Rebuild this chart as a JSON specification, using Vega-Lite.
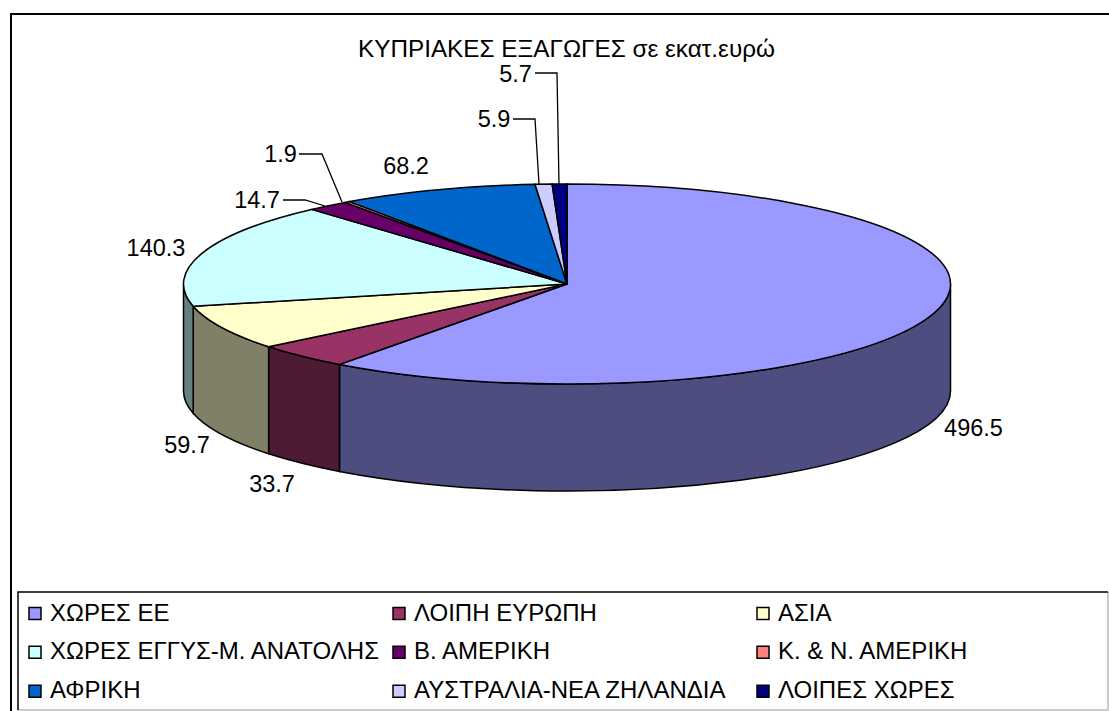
{
"$schema":"https://vega.github.io/schema/vega-lite/v6.json",
"autosize":"none","width":1100,"height":700,
"padding":{"left":11,"top":14,"right":0,"bottom":0},
"background":"white",
"config":{"view":{"stroke":"black","strokeWidth":2,"fill":"white"},"font":"Liberation Sans"},
"title":{"text":"ΚΥΠΡΙΑΚΕΣ ΕΞΑΓΩΓΕΣ σε εκατ.ευρώ","anchor":"start","orient":"top","dx":347,"dy":48,"offset":0,"font":"Liberation Sans","fontSize":24.3,"fontWeight":"normal","color":"black"},
"data":{"values":[
{"cat":"ΧΩΡΕΣ ΕΕ","order":0,"value":496.5},
{"cat":"ΛΟΙΠΗ ΕΥΡΩΠΗ","order":1,"value":33.7},
{"cat":"ΑΣΙΑ","order":2,"value":59.7},
{"cat":"ΧΩΡΕΣ ΕΓΓΥΣ-Μ. ΑΝΑΤΟΛΗΣ","order":3,"value":140.3},
{"cat":"Β. ΑΜΕΡΙΚΗ","order":4,"value":14.7},
{"cat":"Κ. & Ν. ΑΜΕΡΙΚΗ","order":5,"value":1.9},
{"cat":"ΑΦΡΙΚΗ","order":6,"value":68.2},
{"cat":"ΑΥΣΤΡΑΛΙΑ-ΝΕΑ ΖΗΛΑΝΔΙΑ","order":7,"value":5.9},
{"cat":"ΛΟΙΠΕΣ ΧΩΡΕΣ","order":8,"value":5.7}
]},
"transform":[
{"window":[{"op":"sum","field":"value","as":"cum"}],"sort":[{"field":"order"}]},
{"calculate":"min(360,(datum.cum-datum.value)*360/826)*PI/180","as":"a0"},
{"calculate":"min(360,datum.cum*360/826)*PI/180","as":"a1"},
{"calculate":"max(PI/2,min(3*PI/2,datum.a0))","as":"s0"},
{"calculate":"max(PI/2,min(3*PI/2,datum.a1))","as":"s1"},
{"calculate":"'M0,0L'+round(38350*sin(datum.a0))/100+','+round(-10000*cos(datum.a0))/100+'A383.5,100 0 '+(datum.a1-datum.a0>PI?1:0)+' 1 '+round(38350*sin(datum.a1))/100+','+round(-10000*cos(datum.a1))/100+'Z'","as":"topPath"},
{"calculate":"'M'+round(38350*sin(datum.s0))/100+','+round(-10000*cos(datum.s0))/100+'A383.5,100 0 0 1 '+round(38350*sin(datum.s1))/100+','+round(-10000*cos(datum.s1))/100+'L'+round(38350*sin(datum.s1))/100+','+(107+round(-10000*cos(datum.s1))/100)+'A383.5,100 0 0 0 '+round(38350*sin(datum.s0))/100+','+(107+round(-10000*cos(datum.s0))/100)+'Z'","as":"sidePath"},
{"calculate":"[406.5,-295,-380,-411,-310,-286.5,-161,-73,-51.5][datum.order]","as":"labelX"},
{"calculate":"[145,201,162,-35,-83,-129,-117,-164,-209][datum.order]","as":"labelY"}
],
"layer":[
{"transform":[{"filter":"datum.order==0"}],
 "mark":{"type":"point","filled":false,"opacity":1,"size":4,"stroke":"#bbbbbb","strokeWidth":1.5},
 "encoding":{
  "x":{"datum":0,"type":"quantitative","scale":{"domain":[-556,544],"nice":false,"zero":false},"axis":null},
  "y":{"datum":0,"type":"quantitative","scale":{"domain":[-270,430],"nice":false,"zero":false,"reverse":true},"axis":null},
  "shape":{"value":"M541,308L541,426L-549,426"}
 }},
{"transform":[{"filter":"datum.order==0"}],
 "mark":{"type":"point","filled":false,"opacity":1,"size":4,"stroke":"black","strokeWidth":1.5},
 "encoding":{
  "x":{"datum":0,"type":"quantitative","scale":{"domain":[-556,544],"nice":false,"zero":false},"axis":null},
  "y":{"datum":0,"type":"quantitative","scale":{"domain":[-270,430],"nice":false,"zero":false,"reverse":true},"axis":null},
  "shape":{"value":"M-549,426L-549,308L541,308"}
 }},
{"transform":[{"filter":"datum.s1>datum.s0"}],
 "mark":{"type":"point","filled":true,"opacity":1,"size":4,"stroke":"black","strokeWidth":1.5},
 "encoding":{
  "x":{"datum":0,"type":"quantitative","scale":{"domain":[-556,544],"nice":false,"zero":false},"axis":null},
  "y":{"datum":0,"type":"quantitative","scale":{"domain":[-270,430],"nice":false,"zero":false,"reverse":true},"axis":null},
  "shape":{"field":"sidePath","type":"nominal","scale":null},
  "fill":{"field":"cat","type":"nominal","legend":null,"scale":{"domain":["ΧΩΡΕΣ ΕΕ","ΛΟΙΠΗ ΕΥΡΩΠΗ","ΑΣΙΑ","ΧΩΡΕΣ ΕΓΓΥΣ-Μ. ΑΝΑΤΟΛΗΣ"],"range":["#4D4D80","#4D1A33","#808066","#668080"]}}
 }},
{"mark":{"type":"point","filled":true,"opacity":1,"size":4,"stroke":"black","strokeWidth":1.5},
 "encoding":{
  "x":{"datum":0,"type":"quantitative","scale":{"domain":[-556,544],"nice":false,"zero":false},"axis":null},
  "y":{"datum":0,"type":"quantitative","scale":{"domain":[-270,430],"nice":false,"zero":false,"reverse":true},"axis":null},
  "shape":{"field":"topPath","type":"nominal","scale":null},
  "fill":{"field":"cat","type":"nominal",
   "scale":{"domain":["ΧΩΡΕΣ ΕΕ","ΛΟΙΠΗ ΕΥΡΩΠΗ","ΑΣΙΑ","ΧΩΡΕΣ ΕΓΓΥΣ-Μ. ΑΝΑΤΟΛΗΣ","Β. ΑΜΕΡΙΚΗ","Κ. & Ν. ΑΜΕΡΙΚΗ","ΑΦΡΙΚΗ","ΑΥΣΤΡΑΛΙΑ-ΝΕΑ ΖΗΛΑΝΔΙΑ","ΛΟΙΠΕΣ ΧΩΡΕΣ"],
            "range":["#9999FF","#993366","#FFFFCC","#CCFFFF","#660066","#FF8080","#0066CC","#CCCCFF","#000080"]},
   "legend":{"title":null,"orient":"none","legendX":7,"legendY":578,"columns":3,"gridAlign":"all","columnPadding":3,"rowPadding":0,"clipHeight":38.5,"padding":2,"symbolOffset":3,"symbolType":"square","symbolSize":144,"symbolStrokeColor":"black","symbolStrokeWidth":1.5,"labelFont":"Liberation Sans","labelFontSize":24,"labelColor":"black","labelLimit":600,"labelOffset":3,
   "values":["ΧΩΡΕΣ ΕΕ","ΧΩΡΕΣ ΕΓΓΥΣ-Μ. ΑΝΑΤΟΛΗΣ","ΑΦΡΙΚΗ","ΛΟΙΠΗ ΕΥΡΩΠΗ","Β. ΑΜΕΡΙΚΗ","ΑΥΣΤΡΑΛΙΑ-ΝΕΑ ΖΗΛΑΝΔΙΑ","ΑΣΙΑ","Κ. & Ν. ΑΜΕΡΙΚΗ","ΛΟΙΠΕΣ ΧΩΡΕΣ"]}}
 }},
{"transform":[{"filter":"datum.order==4||datum.order==5||datum.order==7||datum.order==8"}],
 "mark":{"type":"point","filled":false,"opacity":1,"size":4,"stroke":"black","strokeWidth":1.3},
 "encoding":{
  "x":{"datum":0,"type":"quantitative","scale":{"domain":[-556,544],"nice":false,"zero":false},"axis":null},
  "y":{"datum":0,"type":"quantitative","scale":{"domain":[-270,430],"nice":false,"zero":false,"reverse":true},"axis":null},
  "shape":{"field":"cat","type":"nominal","legend":null,"scale":{"domain":["Β. ΑΜΕΡΙΚΗ","Κ. & Ν. ΑΜΕΡΙΚΗ","ΑΥΣΤΡΑΛΙΑ-ΝΕΑ ΖΗΛΑΝΔΙΑ","ΛΟΙΠΕΣ ΧΩΡΕΣ"],"range":["M-284,-84L-262,-84L-242,-78","M-268,-130L-245,-130L-225,-82","M-54,-165L-32,-165L-28,-100","M-32,-211L-10,-211L-8,-100"]}}
 }},
{"mark":{"type":"text","font":"Liberation Sans","fontSize":23.5,"color":"black","align":"center","baseline":"middle"},
 "encoding":{
  "x":{"field":"labelX","type":"quantitative","scale":{"domain":[-556,544],"nice":false,"zero":false},"axis":null},
  "y":{"field":"labelY","type":"quantitative","scale":{"domain":[-270,430],"nice":false,"zero":false,"reverse":true},"axis":null},
  "text":{"field":"value","type":"quantitative","format":".1f"}
 }}
],
"resolve":{"scale":{"fill":"independent","shape":"independent"}}
}
